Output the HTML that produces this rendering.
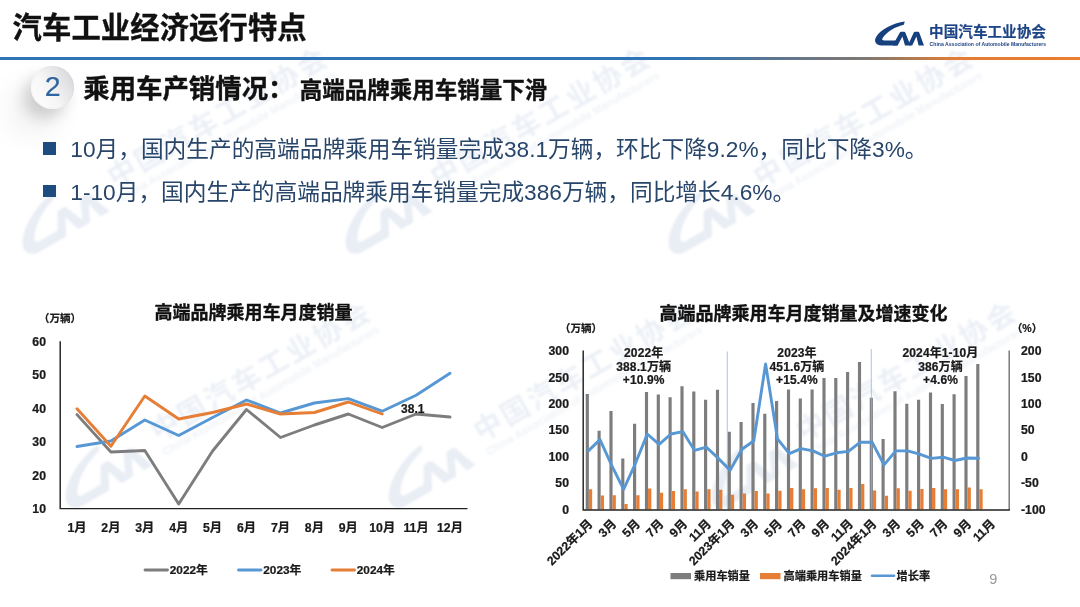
<!DOCTYPE html>
<html lang="zh-CN">
<head>
<meta charset="utf-8">
<title>汽车工业经济运行特点</title>
<style>
html,body{margin:0;padding:0;background:#fff}
body{width:1080px;height:607px;overflow:hidden;position:relative;font-family:"Liberation Sans","Noto Sans CJK SC",sans-serif}
#slide{position:absolute;left:0;top:0;width:1080px;height:607px;overflow:hidden;background:#fff}
svg{position:absolute;left:0;top:0}
svg text{font-family:"Liberation Sans","Noto Sans CJK SC",sans-serif;fill:#1a1a1a}
.ax,.lg,.an,.un,.dl{stroke:#1a1a1a;stroke-width:.24px}
.ct{font-size:18px;font-weight:700;fill:#111;stroke:#111;stroke-width:.36px}
.un{font-size:10.6px;font-weight:700}
.ax{font-size:12.25px;font-weight:700}
.dl{font-size:12px;font-weight:700}
.lg{font-size:11.2px;font-weight:700}
.an{font-size:12px;font-weight:700;letter-spacing:.12px}
.abs{position:absolute;white-space:nowrap;line-height:1;margin:0}
#title{left:12.6px;top:13.3px;font-size:29.3px;font-weight:700;color:#111;letter-spacing:.12px;-webkit-text-stroke:.35px #111}
#rule{left:0;top:56.5px;width:1080px;height:3.1px;background:linear-gradient(90deg,#2f74b5 0%,#2f74b5 63%,#6f7680 75.5%,#7d7873 80%,#e27c34 88.5%,#ea7d30 100%)}
#num{left:30.8px;top:65.8px;width:43.6px;height:42.8px;border-radius:50%;background:linear-gradient(58deg,#ffffff 0%,#f6f6f7 42%,#e4e4e6 72%,#cfd0d3 100%);box-shadow:-7px 9px 14px rgba(0,0,0,.15), -18px 22px 32px rgba(0,0,0,.09), inset 0 0 2px rgba(0,0,0,.08);color:#2f669f;font-size:28.5px;line-height:41.5px;text-align:center;-webkit-text-stroke:.2px #2f669f}
#sub1{left:83.3px;top:76.4px;font-size:26.4px;font-weight:700;color:#111;-webkit-text-stroke:.35px #111}
#sub2{left:299.8px;top:80px;font-size:22.5px;font-weight:700;color:#111;-webkit-text-stroke:.35px #111}
.bul{width:12.5px;height:12.5px;background:#1e4c80}
.bt{font-size:22.7px;color:#28456a;left:70.3px}
#logo-cn{left:929.1px;top:24.9px;font-size:14.6px;font-weight:700;color:#1d4486;-webkit-text-stroke:.2px #1d4486}
#logo-en{left:929.6px;top:42.4px;font-size:5.12px;font-weight:700;color:#1d4486}
#pg{left:989.3px;top:572px;font-size:14.5px;color:#999}
</style>
</head>
<body>
<div id="slide">
<svg width="1080" height="607" viewBox="0 0 1080 607" style="filter:blur(0.8px)">
<g id="watermarks">
<g transform="translate(29.0,258.0) rotate(-30)" fill="#e9edf4"><g transform="translate(0,-46) scale(1.9)"><path d="M29.8 0.2C18 1.6 4.6 8.4 0.7 16.4C-1.2 20.2 1.2 24.1 6.5 24.1H22L24.6 19.2H9.6C7 19.2 6.7 18.2 7.8 16.4C11.5 10.5 19.5 5.6 28.8 3.3Z"/><path d="M17.6 24.1L25 10.9Q25.4 10.3 26.2 10.3H29.2Q30 10.3 30.3 11L35.5 24.1H30L27.4 15.2L22.6 24.1Z"/><path d="M33.6 22.4L38.9 10.9Q39.2 10.3 40 10.3H43.2Q44 10.3 44.2 11L49 24.1H43.6L41.4 15.2L37.2 24.1H34.3Z"/></g><text x="109" y="-17.5" style="font:700 28.5px 'Liberation Sans','Noto Sans CJK SC',sans-serif;letter-spacing:2.8px;fill:#ecf0f6">中国汽车工业协会</text><text x="109" y="-2" style="font:700 10.9px 'Liberation Sans','Noto Sans CJK SC',sans-serif;fill:#eff2f7">China Association of Automobile Manufacturers</text></g>
<g transform="translate(352.0,258.0) rotate(-30)" fill="#e9edf4"><g transform="translate(0,-46) scale(1.9)"><path d="M29.8 0.2C18 1.6 4.6 8.4 0.7 16.4C-1.2 20.2 1.2 24.1 6.5 24.1H22L24.6 19.2H9.6C7 19.2 6.7 18.2 7.8 16.4C11.5 10.5 19.5 5.6 28.8 3.3Z"/><path d="M17.6 24.1L25 10.9Q25.4 10.3 26.2 10.3H29.2Q30 10.3 30.3 11L35.5 24.1H30L27.4 15.2L22.6 24.1Z"/><path d="M33.6 22.4L38.9 10.9Q39.2 10.3 40 10.3H43.2Q44 10.3 44.2 11L49 24.1H43.6L41.4 15.2L37.2 24.1H34.3Z"/></g><text x="109" y="-17.5" style="font:700 28.5px 'Liberation Sans','Noto Sans CJK SC',sans-serif;letter-spacing:2.8px;fill:#ecf0f6">中国汽车工业协会</text><text x="109" y="-2" style="font:700 10.9px 'Liberation Sans','Noto Sans CJK SC',sans-serif;fill:#eff2f7">China Association of Automobile Manufacturers</text></g>
<g transform="translate(675.0,258.0) rotate(-30)" fill="#e9edf4"><g transform="translate(0,-46) scale(1.9)"><path d="M29.8 0.2C18 1.6 4.6 8.4 0.7 16.4C-1.2 20.2 1.2 24.1 6.5 24.1H22L24.6 19.2H9.6C7 19.2 6.7 18.2 7.8 16.4C11.5 10.5 19.5 5.6 28.8 3.3Z"/><path d="M17.6 24.1L25 10.9Q25.4 10.3 26.2 10.3H29.2Q30 10.3 30.3 11L35.5 24.1H30L27.4 15.2L22.6 24.1Z"/><path d="M33.6 22.4L38.9 10.9Q39.2 10.3 40 10.3H43.2Q44 10.3 44.2 11L49 24.1H43.6L41.4 15.2L37.2 24.1H34.3Z"/></g><text x="109" y="-17.5" style="font:700 28.5px 'Liberation Sans','Noto Sans CJK SC',sans-serif;letter-spacing:2.8px;fill:#ecf0f6">中国汽车工业协会</text><text x="109" y="-2" style="font:700 10.9px 'Liberation Sans','Noto Sans CJK SC',sans-serif;fill:#eff2f7">China Association of Automobile Manufacturers</text></g>
<g transform="translate(72.0,512.0) rotate(-30)" fill="#e9edf4"><g transform="translate(0,-46) scale(1.9)"><path d="M29.8 0.2C18 1.6 4.6 8.4 0.7 16.4C-1.2 20.2 1.2 24.1 6.5 24.1H22L24.6 19.2H9.6C7 19.2 6.7 18.2 7.8 16.4C11.5 10.5 19.5 5.6 28.8 3.3Z"/><path d="M17.6 24.1L25 10.9Q25.4 10.3 26.2 10.3H29.2Q30 10.3 30.3 11L35.5 24.1H30L27.4 15.2L22.6 24.1Z"/><path d="M33.6 22.4L38.9 10.9Q39.2 10.3 40 10.3H43.2Q44 10.3 44.2 11L49 24.1H43.6L41.4 15.2L37.2 24.1H34.3Z"/></g><text x="109" y="-17.5" style="font:700 28.5px 'Liberation Sans','Noto Sans CJK SC',sans-serif;letter-spacing:2.8px;fill:#ecf0f6">中国汽车工业协会</text><text x="109" y="-2" style="font:700 10.9px 'Liberation Sans','Noto Sans CJK SC',sans-serif;fill:#eff2f7">China Association of Automobile Manufacturers</text></g>
<g transform="translate(395.0,512.0) rotate(-30)" fill="#e9edf4"><g transform="translate(0,-46) scale(1.9)"><path d="M29.8 0.2C18 1.6 4.6 8.4 0.7 16.4C-1.2 20.2 1.2 24.1 6.5 24.1H22L24.6 19.2H9.6C7 19.2 6.7 18.2 7.8 16.4C11.5 10.5 19.5 5.6 28.8 3.3Z"/><path d="M17.6 24.1L25 10.9Q25.4 10.3 26.2 10.3H29.2Q30 10.3 30.3 11L35.5 24.1H30L27.4 15.2L22.6 24.1Z"/><path d="M33.6 22.4L38.9 10.9Q39.2 10.3 40 10.3H43.2Q44 10.3 44.2 11L49 24.1H43.6L41.4 15.2L37.2 24.1H34.3Z"/></g><text x="109" y="-17.5" style="font:700 28.5px 'Liberation Sans','Noto Sans CJK SC',sans-serif;letter-spacing:2.8px;fill:#ecf0f6">中国汽车工业协会</text><text x="109" y="-2" style="font:700 10.9px 'Liberation Sans','Noto Sans CJK SC',sans-serif;fill:#eff2f7">China Association of Automobile Manufacturers</text></g>
<g transform="translate(718.0,512.0) rotate(-30)" fill="#e9edf4"><g transform="translate(0,-46) scale(1.9)"><path d="M29.8 0.2C18 1.6 4.6 8.4 0.7 16.4C-1.2 20.2 1.2 24.1 6.5 24.1H22L24.6 19.2H9.6C7 19.2 6.7 18.2 7.8 16.4C11.5 10.5 19.5 5.6 28.8 3.3Z"/><path d="M17.6 24.1L25 10.9Q25.4 10.3 26.2 10.3H29.2Q30 10.3 30.3 11L35.5 24.1H30L27.4 15.2L22.6 24.1Z"/><path d="M33.6 22.4L38.9 10.9Q39.2 10.3 40 10.3H43.2Q44 10.3 44.2 11L49 24.1H43.6L41.4 15.2L37.2 24.1H34.3Z"/></g><text x="109" y="-17.5" style="font:700 28.5px 'Liberation Sans','Noto Sans CJK SC',sans-serif;letter-spacing:2.8px;fill:#ecf0f6">中国汽车工业协会</text><text x="109" y="-2" style="font:700 10.9px 'Liberation Sans','Noto Sans CJK SC',sans-serif;fill:#eff2f7">China Association of Automobile Manufacturers</text></g>
</g>
</svg>
<div class="abs" id="num">2</div>
<h1 class="abs" id="title">汽车工业经济运行特点</h1>
<div class="abs" id="rule"></div>
<svg width="1080" height="607" viewBox="0 0 1080 607">
<g id="logo" transform="translate(875,21.4)" fill="#17407f"><path d="M29.8 0.2C18 1.6 4.6 8.4 0.7 16.4C-1.2 20.2 1.2 24.1 6.5 24.1H22L24.6 19.2H9.6C7 19.2 6.7 18.2 7.8 16.4C11.5 10.5 19.5 5.6 28.8 3.3Z"/><path d="M17.6 24.1L25 10.9Q25.4 10.3 26.2 10.3H29.2Q30 10.3 30.3 11L35.5 24.1H30L27.4 15.2L22.6 24.1Z"/><path d="M33.6 22.4L38.9 10.9Q39.2 10.3 40 10.3H43.2Q44 10.3 44.2 11L49 24.1H43.6L41.4 15.2L37.2 24.1H34.3Z"/></g>
<g id="chart-left">
<text x="253.5" y="318.9" class="ct" text-anchor="middle">高端品牌乘用车月度销量</text>
<text x="60" y="322" class="un" text-anchor="middle">（万辆）</text>
<text x="46" y="513.0" class="ax" text-anchor="end">10</text>
<text x="46" y="479.5" class="ax" text-anchor="end">20</text>
<text x="46" y="446.0" class="ax" text-anchor="end">30</text>
<text x="46" y="412.5" class="ax" text-anchor="end">40</text>
<text x="46" y="379.0" class="ax" text-anchor="end">50</text>
<text x="46" y="345.5" class="ax" text-anchor="end">60</text>
<text x="77.0" y="531.6" class="ax" text-anchor="middle">1月</text>
<text x="110.9" y="531.6" class="ax" text-anchor="middle">2月</text>
<text x="144.8" y="531.6" class="ax" text-anchor="middle">3月</text>
<text x="178.7" y="531.6" class="ax" text-anchor="middle">4月</text>
<text x="212.6" y="531.6" class="ax" text-anchor="middle">5月</text>
<text x="246.5" y="531.6" class="ax" text-anchor="middle">6月</text>
<text x="280.5" y="531.6" class="ax" text-anchor="middle">7月</text>
<text x="314.4" y="531.6" class="ax" text-anchor="middle">8月</text>
<text x="348.3" y="531.6" class="ax" text-anchor="middle">9月</text>
<text x="382.2" y="531.6" class="ax" text-anchor="middle">10月</text>
<text x="416.1" y="531.6" class="ax" text-anchor="middle">11月</text>
<text x="450.0" y="531.6" class="ax" text-anchor="middle">12月</text>
<polyline points="77.0,414.6 110.9,452.0 144.8,450.5 178.7,504.0 212.6,451.0 246.5,409.5 280.5,437.5 314.4,425.0 348.3,414.0 382.2,427.5 416.1,414.0 450.0,417.0" fill="none" stroke="#7d7d7d" stroke-width="2.9" stroke-linejoin="round" stroke-linecap="round"/>
<polyline points="77.0,446.5 110.9,441.0 144.8,420.0 178.7,435.5 212.6,417.5 246.5,400.0 280.5,413.0 314.4,403.0 348.3,398.6 382.2,411.2 416.1,395.3 450.0,373.3" fill="none" stroke="#5797d3" stroke-width="2.9" stroke-linejoin="round" stroke-linecap="round"/>
<polyline points="77.0,408.8 110.9,446.3 144.8,396.0 178.7,419.0 212.6,412.5 246.5,404.0 280.5,414.0 314.4,412.5 348.3,402.0 382.2,414.0" fill="none" stroke="#e67e36" stroke-width="2.9" stroke-linejoin="round" stroke-linecap="round"/>
<path d="M60.2 341.3V508.6H467.5" fill="none" stroke="#222" stroke-width="1.45"/>
<text x="412.8" y="413" class="dl" text-anchor="middle">38.1</text>
<line x1="145.0" y1="570" x2="167.5" y2="570" stroke="#7d7d7d" stroke-width="2.9" stroke-linecap="round"/>
<text x="169.8" y="574.4" class="lg" style="font-size:11.8px">2022年</text>
<line x1="238.5" y1="570" x2="261.0" y2="570" stroke="#5797d3" stroke-width="2.9" stroke-linecap="round"/>
<text x="263.3" y="574.4" class="lg" style="font-size:11.8px">2023年</text>
<line x1="332.0" y1="570" x2="354.5" y2="570" stroke="#e67e36" stroke-width="2.9" stroke-linecap="round"/>
<text x="356.8" y="574.4" class="lg" style="font-size:11.8px">2024年</text>
</g>
<g id="chart-right">
<text x="803.5" y="320" class="ct" text-anchor="middle">高端品牌乘用车月度销量及增速变化</text>
<text x="581" y="332" class="un" text-anchor="middle">（万辆）</text>
<text x="1027" y="331.5" class="un" text-anchor="middle">（%）</text>
<text x="569" y="513.6" class="ax" text-anchor="end">0</text>
<text x="1021" y="513.6" class="ax">-100</text>
<text x="569" y="487.2" class="ax" text-anchor="end">50</text>
<text x="1021" y="487.2" class="ax">-50</text>
<text x="569" y="460.8" class="ax" text-anchor="end">100</text>
<text x="1021" y="460.8" class="ax">0</text>
<text x="569" y="434.4" class="ax" text-anchor="end">150</text>
<text x="1021" y="434.4" class="ax">50</text>
<text x="569" y="408.1" class="ax" text-anchor="end">200</text>
<text x="1021" y="408.1" class="ax">100</text>
<text x="569" y="381.7" class="ax" text-anchor="end">250</text>
<text x="1021" y="381.7" class="ax">150</text>
<text x="569" y="355.3" class="ax" text-anchor="end">300</text>
<text x="1021" y="355.3" class="ax">200</text>
<path d="M587.3 509.6V393.9M599.1 509.6V430.8M611.0 509.6V410.9M622.8 509.6V458.4M634.6 509.6V423.7M646.5 509.6V392.0M658.3 509.6V394.6M670.1 509.6V397.2M682.0 509.6V386.2M693.8 509.6V391.6M705.6 509.6V399.8M717.5 509.6V389.8M729.3 509.6V431.8M741.1 509.6V422.1M753.0 509.6V402.9M764.8 509.6V413.7M776.6 509.6V401.1M788.5 509.6V389.6M800.3 509.6V398.5M812.1 509.6V389.4M824.0 509.6V378.1M835.8 509.6V378.0M847.6 509.6V371.9M859.5 509.6V362.0M871.3 509.6V397.7M883.1 509.6V439.0M895.0 509.6V391.3M906.8 509.6V403.7M918.6 509.6V399.8M930.5 509.6V392.4M942.3 509.6V404.1M954.1 509.6V394.2M966.0 509.6V376.1M977.8 509.6V363.9" stroke="#7d7d7d" stroke-width="3.15" fill="none"/>
<path d="M590.5 509.6V489.3M602.4 509.6V495.5M614.2 509.6V495.3M626.0 509.6V503.9M637.9 509.6V495.3M649.7 509.6V488.6M661.5 509.6V492.8M673.4 509.6V491.1M685.2 509.6V489.3M697.0 509.6V491.6M708.9 509.6V489.3M720.7 509.6V489.7M732.5 509.6V494.8M744.4 509.6V493.4M756.2 509.6V491.1M768.0 509.6V493.4M779.9 509.6V490.7M791.7 509.6V487.9M803.5 509.6V489.3M815.4 509.6V488.3M827.2 509.6V487.9M839.0 509.6V489.7M850.9 509.6V487.9M862.7 509.6V484.1M874.5 509.6V490.4M886.4 509.6V495.8M898.2 509.6V488.3M910.0 509.6V490.7M921.9 509.6V489.0M933.7 509.6V487.9M945.5 509.6V489.3M957.4 509.6V489.3M969.2 509.6V487.6M981.0 509.6V489.3" stroke="#e67e36" stroke-width="3.3" fill="none"/>
<line x1="727.3" y1="351.5" x2="727.3" y2="509" stroke="#8fbbe3" stroke-width="1" opacity=".8"/>
<line x1="871.3" y1="349" x2="871.3" y2="509" stroke="#8fbbe3" stroke-width="1" opacity=".8"/>
<polyline points="588.1,451.1 600.0,439.6 611.8,465.6 623.6,489.3 635.5,463.3 647.3,434.0 659.1,444.4 671.0,434.0 682.8,431.6 694.6,450.4 706.5,447.2 718.3,458.4 730.1,470.2 742.0,449.2 753.8,440.8 765.6,364.0 777.5,438.8 789.3,453.7 801.1,448.6 813.0,450.9 824.8,456.2 836.6,452.8 848.5,451.4 860.3,442.2 872.1,442.2 884.0,464.9 895.8,450.9 907.6,450.9 919.5,454.2 931.3,458.4 943.1,457.2 955.0,460.5 966.8,458.0 978.6,458.3" fill="none" stroke="#5797d3" stroke-width="2.9" stroke-linejoin="round" stroke-linecap="round"/>
<path d="M1009.2 509.9V350.5" fill="none" stroke="#7a7a7a" stroke-width="1.5"/>
<path d="M583.2 350.5V509.9H1009.9" fill="none" stroke="#222" stroke-width="1.45"/>
<text transform="translate(593.4,524.5) rotate(-45)" class="ax" text-anchor="end">2022年1月</text>
<text transform="translate(617.1,524.5) rotate(-45)" class="ax" text-anchor="end">3月</text>
<text transform="translate(640.8,524.5) rotate(-45)" class="ax" text-anchor="end">5月</text>
<text transform="translate(664.4,524.5) rotate(-45)" class="ax" text-anchor="end">7月</text>
<text transform="translate(688.1,524.5) rotate(-45)" class="ax" text-anchor="end">9月</text>
<text transform="translate(711.8,524.5) rotate(-45)" class="ax" text-anchor="end">11月</text>
<text transform="translate(735.4,524.5) rotate(-45)" class="ax" text-anchor="end">2023年1月</text>
<text transform="translate(759.1,524.5) rotate(-45)" class="ax" text-anchor="end">3月</text>
<text transform="translate(782.8,524.5) rotate(-45)" class="ax" text-anchor="end">5月</text>
<text transform="translate(806.4,524.5) rotate(-45)" class="ax" text-anchor="end">7月</text>
<text transform="translate(830.1,524.5) rotate(-45)" class="ax" text-anchor="end">9月</text>
<text transform="translate(853.8,524.5) rotate(-45)" class="ax" text-anchor="end">11月</text>
<text transform="translate(877.4,524.5) rotate(-45)" class="ax" text-anchor="end">2024年1月</text>
<text transform="translate(901.1,524.5) rotate(-45)" class="ax" text-anchor="end">3月</text>
<text transform="translate(924.8,524.5) rotate(-45)" class="ax" text-anchor="end">5月</text>
<text transform="translate(948.4,524.5) rotate(-45)" class="ax" text-anchor="end">7月</text>
<text transform="translate(972.1,524.5) rotate(-45)" class="ax" text-anchor="end">9月</text>
<text transform="translate(995.8,524.5) rotate(-45)" class="ax" text-anchor="end">11月</text>
<text x="643.7" y="357.2" class="an" text-anchor="middle">2022年</text>
<text x="643.7" y="370.6" class="an" text-anchor="middle">388.1万辆</text>
<text x="643.7" y="383.9" class="an" text-anchor="middle">+10.9%</text>
<text x="797.0" y="357.2" class="an" text-anchor="middle">2023年</text>
<text x="797.0" y="370.6" class="an" text-anchor="middle">451.6万辆</text>
<text x="797.0" y="383.9" class="an" text-anchor="middle">+15.4%</text>
<text x="940.5" y="357.2" class="an" text-anchor="middle">2024年1-10月</text>
<text x="940.5" y="370.6" class="an" text-anchor="middle">386万辆</text>
<text x="940.5" y="383.9" class="an" text-anchor="middle">+4.6%</text>
<rect x="670.5" y="573" width="20.5" height="6.2" fill="#7d7d7d"/>
<text x="694" y="580.1" class="lg">乘用车销量</text>
<rect x="760" y="573" width="20.5" height="6.2" fill="#e67e36"/>
<text x="783.5" y="580.1" class="lg">高端乘用车销量</text>
<line x1="872" y1="575.7" x2="894" y2="575.7" stroke="#5797d3" stroke-width="2.6" stroke-linecap="round"/>
<text x="896.5" y="580.1" class="lg">增长率</text>
</g>
</svg>
<div class="abs" id="logo-cn">中国汽车工业协会</div>
<div class="abs" id="logo-en">China Association of Automobile Manufacturers</div>
<div class="abs" id="sub1">乘用车产销情况：</div>
<div class="abs" id="sub2">高端品牌乘用车销量下滑</div>
<div class="abs bul" style="left:43px;top:142px"></div>
<div class="abs bt" style="top:138.4px">10月，国内生产的高端品牌乘用车销量完成38.1万辆，环比下降9.2%，同比下降3%。</div>
<div class="abs bul" style="left:43px;top:184.5px"></div>
<div class="abs bt" style="top:181.3px">1-10月，国内生产的高端品牌乘用车销量完成386万辆，同比增长4.6%。</div>
<div class="abs" id="pg">9</div>
</div>
</body>
</html>
